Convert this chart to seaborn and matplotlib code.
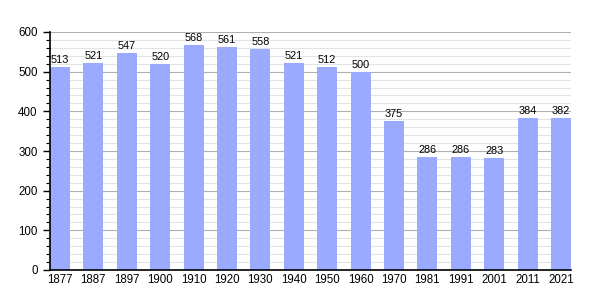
import matplotlib
matplotlib.use("Agg")
import matplotlib.pyplot as plt
import seaborn as sns
import pandas as pd
from matplotlib.ticker import MultipleLocator

years = ["1877", "1887", "1897", "1900", "1910", "1920", "1930", "1940",
         "1950", "1960", "1970", "1981", "1991", "2001", "2011", "2021"]
population = [513, 521, 547, 520, 568, 561, 558, 521, 512, 500, 375, 286, 286, 283, 384, 382]

df = pd.DataFrame({"year": years, "pop": population})

sns.set_theme(style="white")
plt.rcParams['font.family'] = ['Liberation Sans', 'DejaVu Sans']

fig = plt.figure(figsize=(6, 3), dpi=100)
ax = fig.add_axes([50 / 600, 30 / 300, 521 / 600, 238 / 300])

sns.barplot(data=df, x="year", y="pop", color="#99AAFF", saturation=1,
            width=0.6, ax=ax, zorder=3, linewidth=0, edgecolor="none")

ax.set_ylim(0, 600)
ax.set_xlim(-0.3, len(years) - 0.7)
ax.yaxis.set_major_locator(MultipleLocator(100))
ax.yaxis.set_minor_locator(MultipleLocator(20))
ax.grid(which="minor", axis="y", color="#e3e3e3", linewidth=0.8, zorder=0)
ax.grid(which="major", axis="y", color="#b0b0b0", linewidth=0.8, zorder=0)
ax.set_axisbelow(True)

for s in ["top", "right"]:
    ax.spines[s].set_visible(False)
for s in ["left", "bottom"]:
    ax.spines[s].set_color("black")
    ax.spines[s].set_linewidth(1.2)
    ax.spines[s].set_zorder(5)

ax.tick_params(axis="y", which="major", left=True, length=5, width=1, color="black", labelsize=8.3, pad=4, labelcolor="black")
ax.tick_params(axis="y", which="minor", left=True, length=3, width=0.8, color="black")
ax.tick_params(axis="x", bottom=False, length=0, labelsize=8.3, pad=3, labelcolor="black")
ax.set_xlabel("")
ax.set_ylabel("")

for i, v in enumerate(population):
    ax.text(i, v + 5, str(v), ha="center", va="bottom", fontsize=7.8, color="black", zorder=6)

fig.savefig("out.png", dpi=100)
